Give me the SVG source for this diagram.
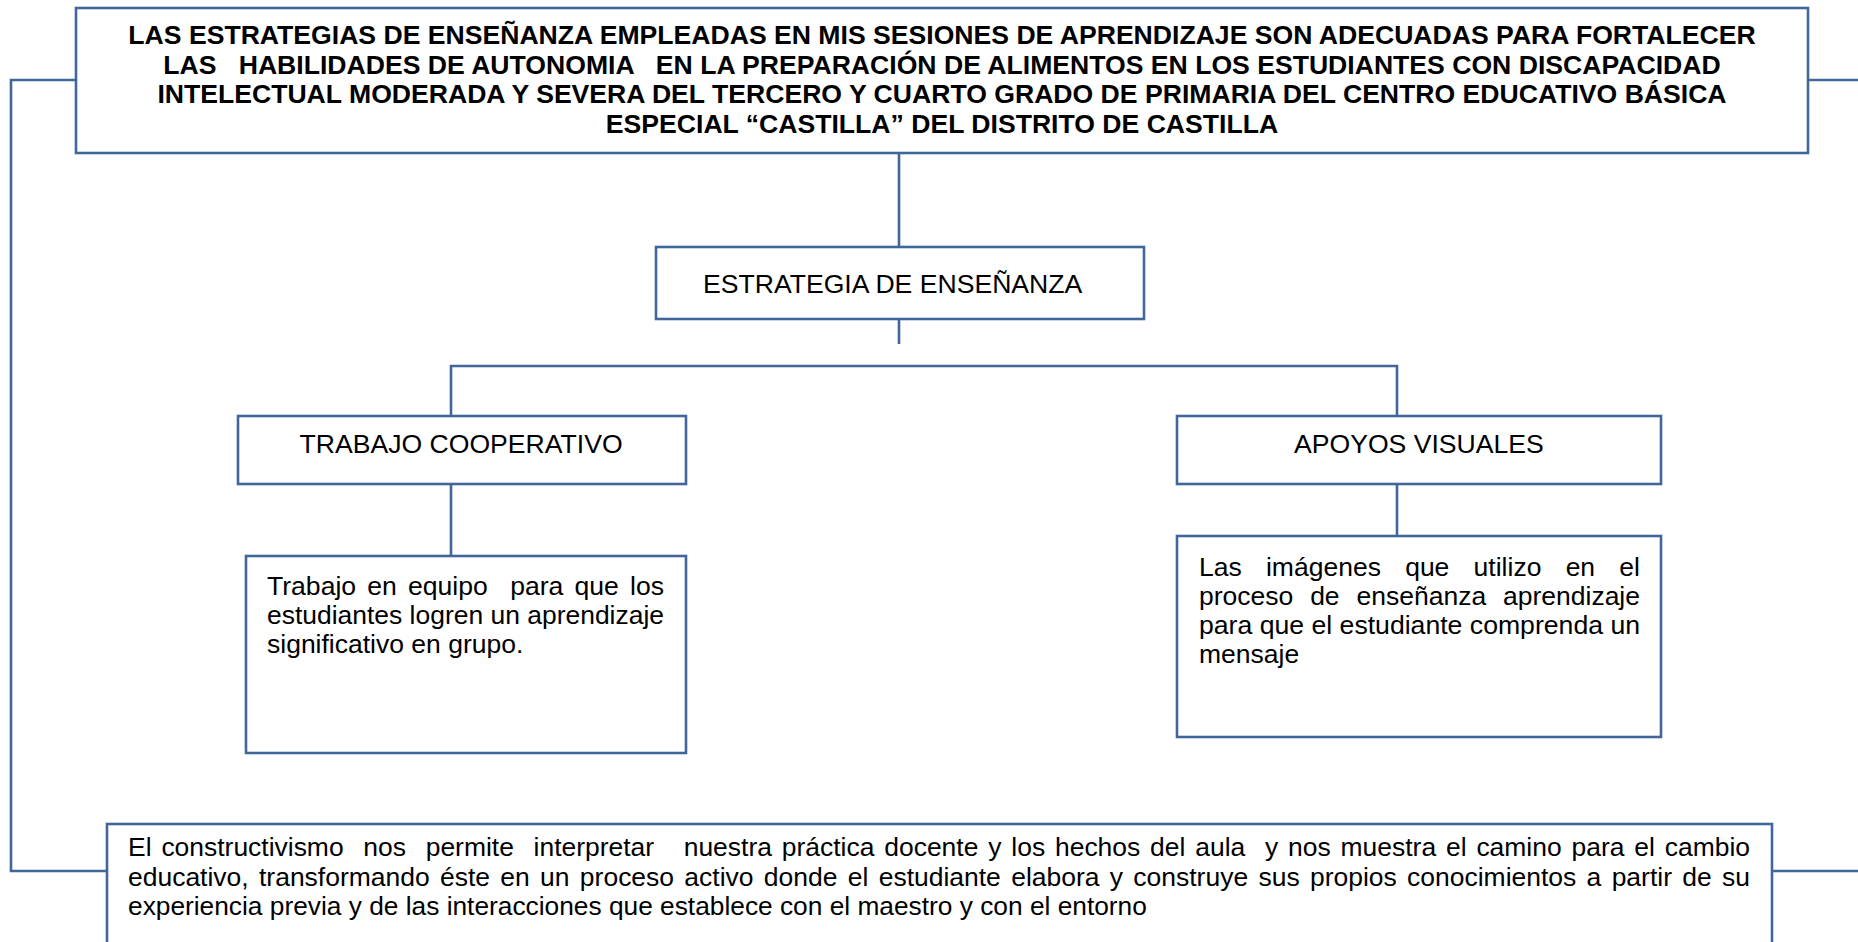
<svg xmlns="http://www.w3.org/2000/svg" width="1858" height="942" viewBox="0 0 1858 942" xml:space="preserve">
<style>
.box{fill:#ffffff;stroke:#41669A;stroke-width:2.6}
.con{fill:none;stroke:#41669A;stroke-width:2.6}
text{font-family:"Liberation Sans",Arial,sans-serif;fill:#000000;white-space:pre}
.ttl{font-size:26.6px;font-weight:bold;text-anchor:middle}
.hd{font-size:26.6px}
.ds{font-size:26.5px}
.bt{font-size:26.3px}
</style>
<rect width="1858" height="942" fill="#ffffff"/>
<g id="connectors">
<path class="con" d="M76,80 H11 V871 H107"/>
<path class="con" d="M1808,80 H1858"/>
<path class="con" d="M1772,871 H1858"/>
<path class="con" d="M899,153 V247"/>
<path class="con" d="M899,319 V344"/>
<path class="con" d="M451,416 V366 H1397 V416"/>
<path class="con" d="M451,484 V556"/>
<path class="con" d="M1397,484 V536"/>
</g>
<g id="title">
<rect class="box" x="76" y="8" width="1732" height="145"/>
<text class="ttl" x="942" y="44">LAS ESTRATEGIAS DE ENSEÑANZA EMPLEADAS EN MIS SESIONES DE APRENDIZAJE SON ADECUADAS PARA FORTALECER</text>
<text class="ttl" x="942" y="73.5">LAS   HABILIDADES DE AUTONOMIA   EN LA PREPARACIÓN DE ALIMENTOS EN LOS ESTUDIANTES CON DISCAPACIDAD</text>
<text class="ttl" x="942" y="103">INTELECTUAL MODERADA Y SEVERA DEL TERCERO Y CUARTO GRADO DE PRIMARIA DEL CENTRO EDUCATIVO BÁSICA</text>
<text class="ttl" x="942" y="132.5">ESPECIAL “CASTILLA” DEL DISTRITO DE CASTILLA</text>
</g>
<g id="estrategia">
<rect class="box" x="656" y="247" width="488" height="72"/>
<text class="hd" x="703" y="293">ESTRATEGIA DE ENSEÑANZA</text>
</g>
<g id="trabajo">
<rect class="box" x="238" y="416" width="448" height="68"/>
<text class="hd" x="299.5" y="453">TRABAJO COOPERATIVO</text>
</g>
<g id="apoyos">
<rect class="box" x="1177" y="416" width="484" height="68"/>
<text class="hd" x="1294" y="453">APOYOS VISUALES</text>
</g>
<g id="trabajo-desc">
<rect class="box" x="246" y="556" width="440" height="197"/>
<text class="ds" x="267" y="595" word-spacing="3.8" textLength="397" lengthAdjust="spacingAndGlyphs">Trabajo en equipo  para que los</text>
<text class="ds" x="267" y="624" textLength="397" lengthAdjust="spacingAndGlyphs">estudiantes logren un aprendizaje</text>
<text class="ds" x="267" y="653">significativo en grupo.</text>
</g>
<g id="apoyos-desc">
<rect class="box" x="1177" y="536" width="484" height="201"/>
<text class="ds" x="1199" y="576" word-spacing="16.9" textLength="441" lengthAdjust="spacingAndGlyphs">Las imágenes que utilizo en el</text>
<text class="ds" x="1199" y="605" word-spacing="9.5" textLength="441" lengthAdjust="spacingAndGlyphs">proceso de enseñanza aprendizaje</text>
<text class="ds" x="1199" y="634" textLength="441" lengthAdjust="spacingAndGlyphs">para que el estudiante comprenda un</text>
<text class="ds" x="1199" y="663">mensaje</text>
</g>
<g id="constructivismo">
<rect class="box" x="107" y="824" width="1665" height="140"/>
<text class="bt" x="128" y="856" word-spacing="2.5" textLength="1622" lengthAdjust="spacingAndGlyphs">El constructivismo  nos  permite  interpretar   nuestra práctica docente y los hechos del aula  y nos muestra el camino para el cambio</text>
<text class="bt" x="128" y="885.5" word-spacing="2.95" textLength="1622" lengthAdjust="spacingAndGlyphs">educativo, transformando éste en un proceso activo donde el estudiante elabora y construye sus propios conocimientos a partir de su</text>
<text class="bt" x="128" y="915">experiencia previa y de las interacciones que establece con el maestro y con el entorno</text>
</g>
</svg>
